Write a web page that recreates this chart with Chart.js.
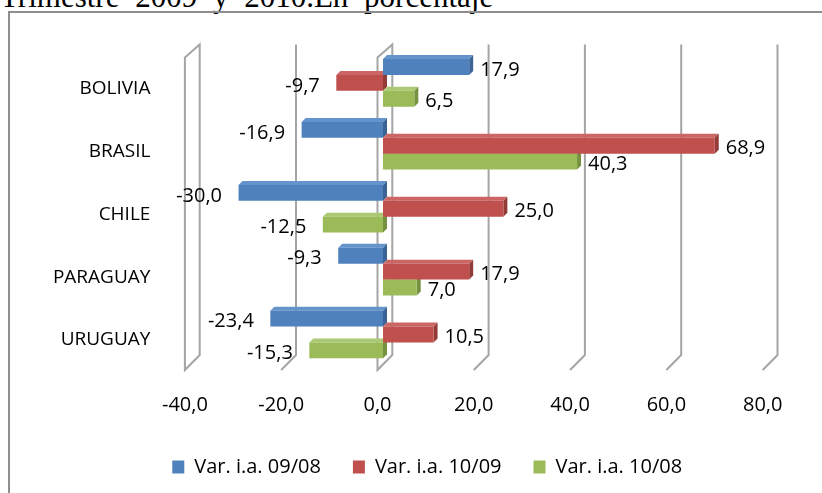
<!DOCTYPE html>
<html>
<head>
<meta charset="utf-8">
<script src="https://cdn.jsdelivr.net/npm/chart.js@4.4.1/dist/chart.umd.min.js"></script>
<style>
  html, body { margin: 0; padding: 0; width: 822px; height: 493px; overflow: hidden; background: #fff; }
  #title { position: absolute; left: 0; top: -19px; font-family: "Liberation Serif", serif; font-size: 31px; line-height: 31px; word-spacing: 8px; white-space: nowrap; color: #000; }
  #frame { position: absolute; left: 8px; top: 11px; width: 900px; height: 600px; border: 2px solid #8e8e8e; }
  #chart { position: absolute; left: 0; top: 0; }
</style>
</head>
<body>
<div id="title">Trimestre 2009 y 2010.En porcentaje</div>
<div id="frame"></div>
<canvas id="chart" width="822" height="540"></canvas>
<script>
const categories = ["BOLIVIA", "BRASIL", "CHILE", "PARAGUAY", "URUGUAY"];
const seriesNames = ["Var. i.a. 09/08", "Var. i.a. 10/09", "Var. i.a. 10/08"];
const var0908 = [17.9, -16.9, -30.0, -9.3, -23.4];
const var1009 = [-9.7, 68.9, 25.0, 17.9, 10.5];
const var1008 = [6.5, 40.3, -12.5, 7.0, -15.3];
const xTicks = [-40, -20, 0, 20, 40, 60, 80];

const colors = ["#4f81bd", "#c0504d", "#9bbb59"];
const sideColors = ["#3a6496", "#923b39", "#76913f"];
const topColors = ["#6593cc", "#cc6664", "#abc872"];

const fmt = v => v.toFixed(1).replace(".", ",");
const FONT = "'Open Sans', sans-serif";

// 3D-ish walls and grid lines, drawn behind the bars
const gridPlugin = {
    id: "grid3d",
    beforeDatasetsDraw(chart) {
        const ctx = chart.ctx;
        const xs = chart.scales.x;
        const area = chart.chartArea;
        const yBT = area.top - 7, yFT = area.top + 6;
        const yBB = area.bottom - 11, yFB = area.bottom + 4;
        ctx.save();
        ctx.strokeStyle = "#a5a5a5";
        ctx.lineWidth = 2;
        xTicks.forEach(v => {
            const px = xs.getPixelForValue(v);
            const fx = px - 5.5, bx = px + 9.3;
            ctx.beginPath();
            if (v === -40 || v === 0) {
                ctx.moveTo(fx, yFT);
                ctx.lineTo(bx, yBT);
                ctx.lineTo(bx, yBB);
                ctx.lineTo(fx, yFB);
                ctx.closePath();
            } else {
                ctx.moveTo(bx, yBT);
                ctx.lineTo(bx, yBB);
                ctx.lineTo(fx, yFB);
            }
            ctx.stroke();
        });
        ctx.restore();

        // top and end faces of bars
        const d = 4;
        chart.data.datasets.forEach((ds, i) => {
            const meta = chart.getDatasetMeta(i);
            meta.data.forEach(bar => {
                const p = bar.getProps(["x", "y", "base", "height"], true);
                const left = Math.min(p.x, p.base), right = Math.max(p.x, p.base);
                const top = p.y - p.height / 2, bottom = p.y + p.height / 2;
                ctx.fillStyle = topColors[i];
                ctx.beginPath();
                ctx.moveTo(left, top);
                ctx.lineTo(left + d, top - d);
                ctx.lineTo(right + d, top - d);
                ctx.lineTo(right, top);
                ctx.closePath();
                ctx.fill();
                ctx.fillStyle = sideColors[i];
                ctx.beginPath();
                ctx.moveTo(right, top);
                ctx.lineTo(right + d, top - d);
                ctx.lineTo(right + d, bottom - d);
                ctx.lineTo(right, bottom);
                ctx.closePath();
                ctx.fill();
            });
        });
    }
};

// value labels next to the bars
const labelPlugin = {
    id: "valueLabels",
    afterDatasetsDraw(chart) {
        const ctx = chart.ctx;
        ctx.save();
        ctx.font = "20px " + FONT;
        ctx.fillStyle = "#000";
        ctx.textBaseline = "middle";
        chart.data.datasets.forEach((ds, i) => {
            chart.getDatasetMeta(i).data.forEach((bar, j) => {
                const v = ds.data[j];
                const p = bar.getProps(["x", "y"], true);
                if (v >= 0) {
                    ctx.textAlign = "left";
                    ctx.fillText(fmt(v), p.x + 11, p.y + 3);
                } else {
                    ctx.textAlign = "right";
                    ctx.fillText(fmt(v), p.x - 16.5, p.y + 3);
                }
            });
        });
        ctx.restore();
    }
};

new Chart(document.getElementById("chart"), {
    type: "bar",
    data: {
        labels: categories,
        datasets: [
            { label: seriesNames[0], data: var0908, backgroundColor: colors[0] },
            { label: seriesNames[1], data: var1009, backgroundColor: colors[1] },
            { label: seriesNames[2], data: var1008, backgroundColor: colors[2] }
        ]
    },
    options: {
        indexAxis: "y",
        responsive: false,
        animation: false,
        categoryPercentage: 0.756,
        barPercentage: 1.0,
        layout: { padding: { left: 32.4, right: 0, top: 49.2, bottom: 53 } },
        scales: {
            x: {
                min: -40,
                max: 80,
                afterBuildTicks: s => { s.ticks = xTicks.map(v => ({ value: v })); },
                afterFit: s => { s.height = 59; },
                grid: { display: false, drawTicks: false },
                border: { display: false },
                ticks: {
                    callback: v => fmt(v),
                    color: "#000",
                    font: { family: FONT, size: 20 },
                    padding: 27,
                    labelOffset: -5.5,
                    maxRotation: 0
                }
            },
            y: {
                afterFit: s => { s.width = 158; },
                grid: { display: false, drawTicks: false },
                border: { display: false },
                ticks: {
                    color: "#000",
                    font: { family: FONT, size: 19 },
                    padding: 40,
                    labelOffset: 5.5
                }
            },
            // empty right-hand margin so the legend is centred like the original
            yRight: {
                axis: "y",
                type: "category",
                position: "right",
                afterFit: s => { s.width = 53.8; },
                grid: { display: false, drawTicks: false },
                border: { display: false },
                ticks: { display: false }
            }
        },
        plugins: {
            legend: {
                position: "bottom",
                labels: {
                    boxWidth: 12,
                    boxHeight: 13,
                    padding: 32,
                    color: "#000",
                    font: { family: FONT, size: 20 }
                }
            },
            tooltip: { enabled: false }
        }
    },
    plugins: [gridPlugin, labelPlugin]
});
</script>
</body>
</html>
